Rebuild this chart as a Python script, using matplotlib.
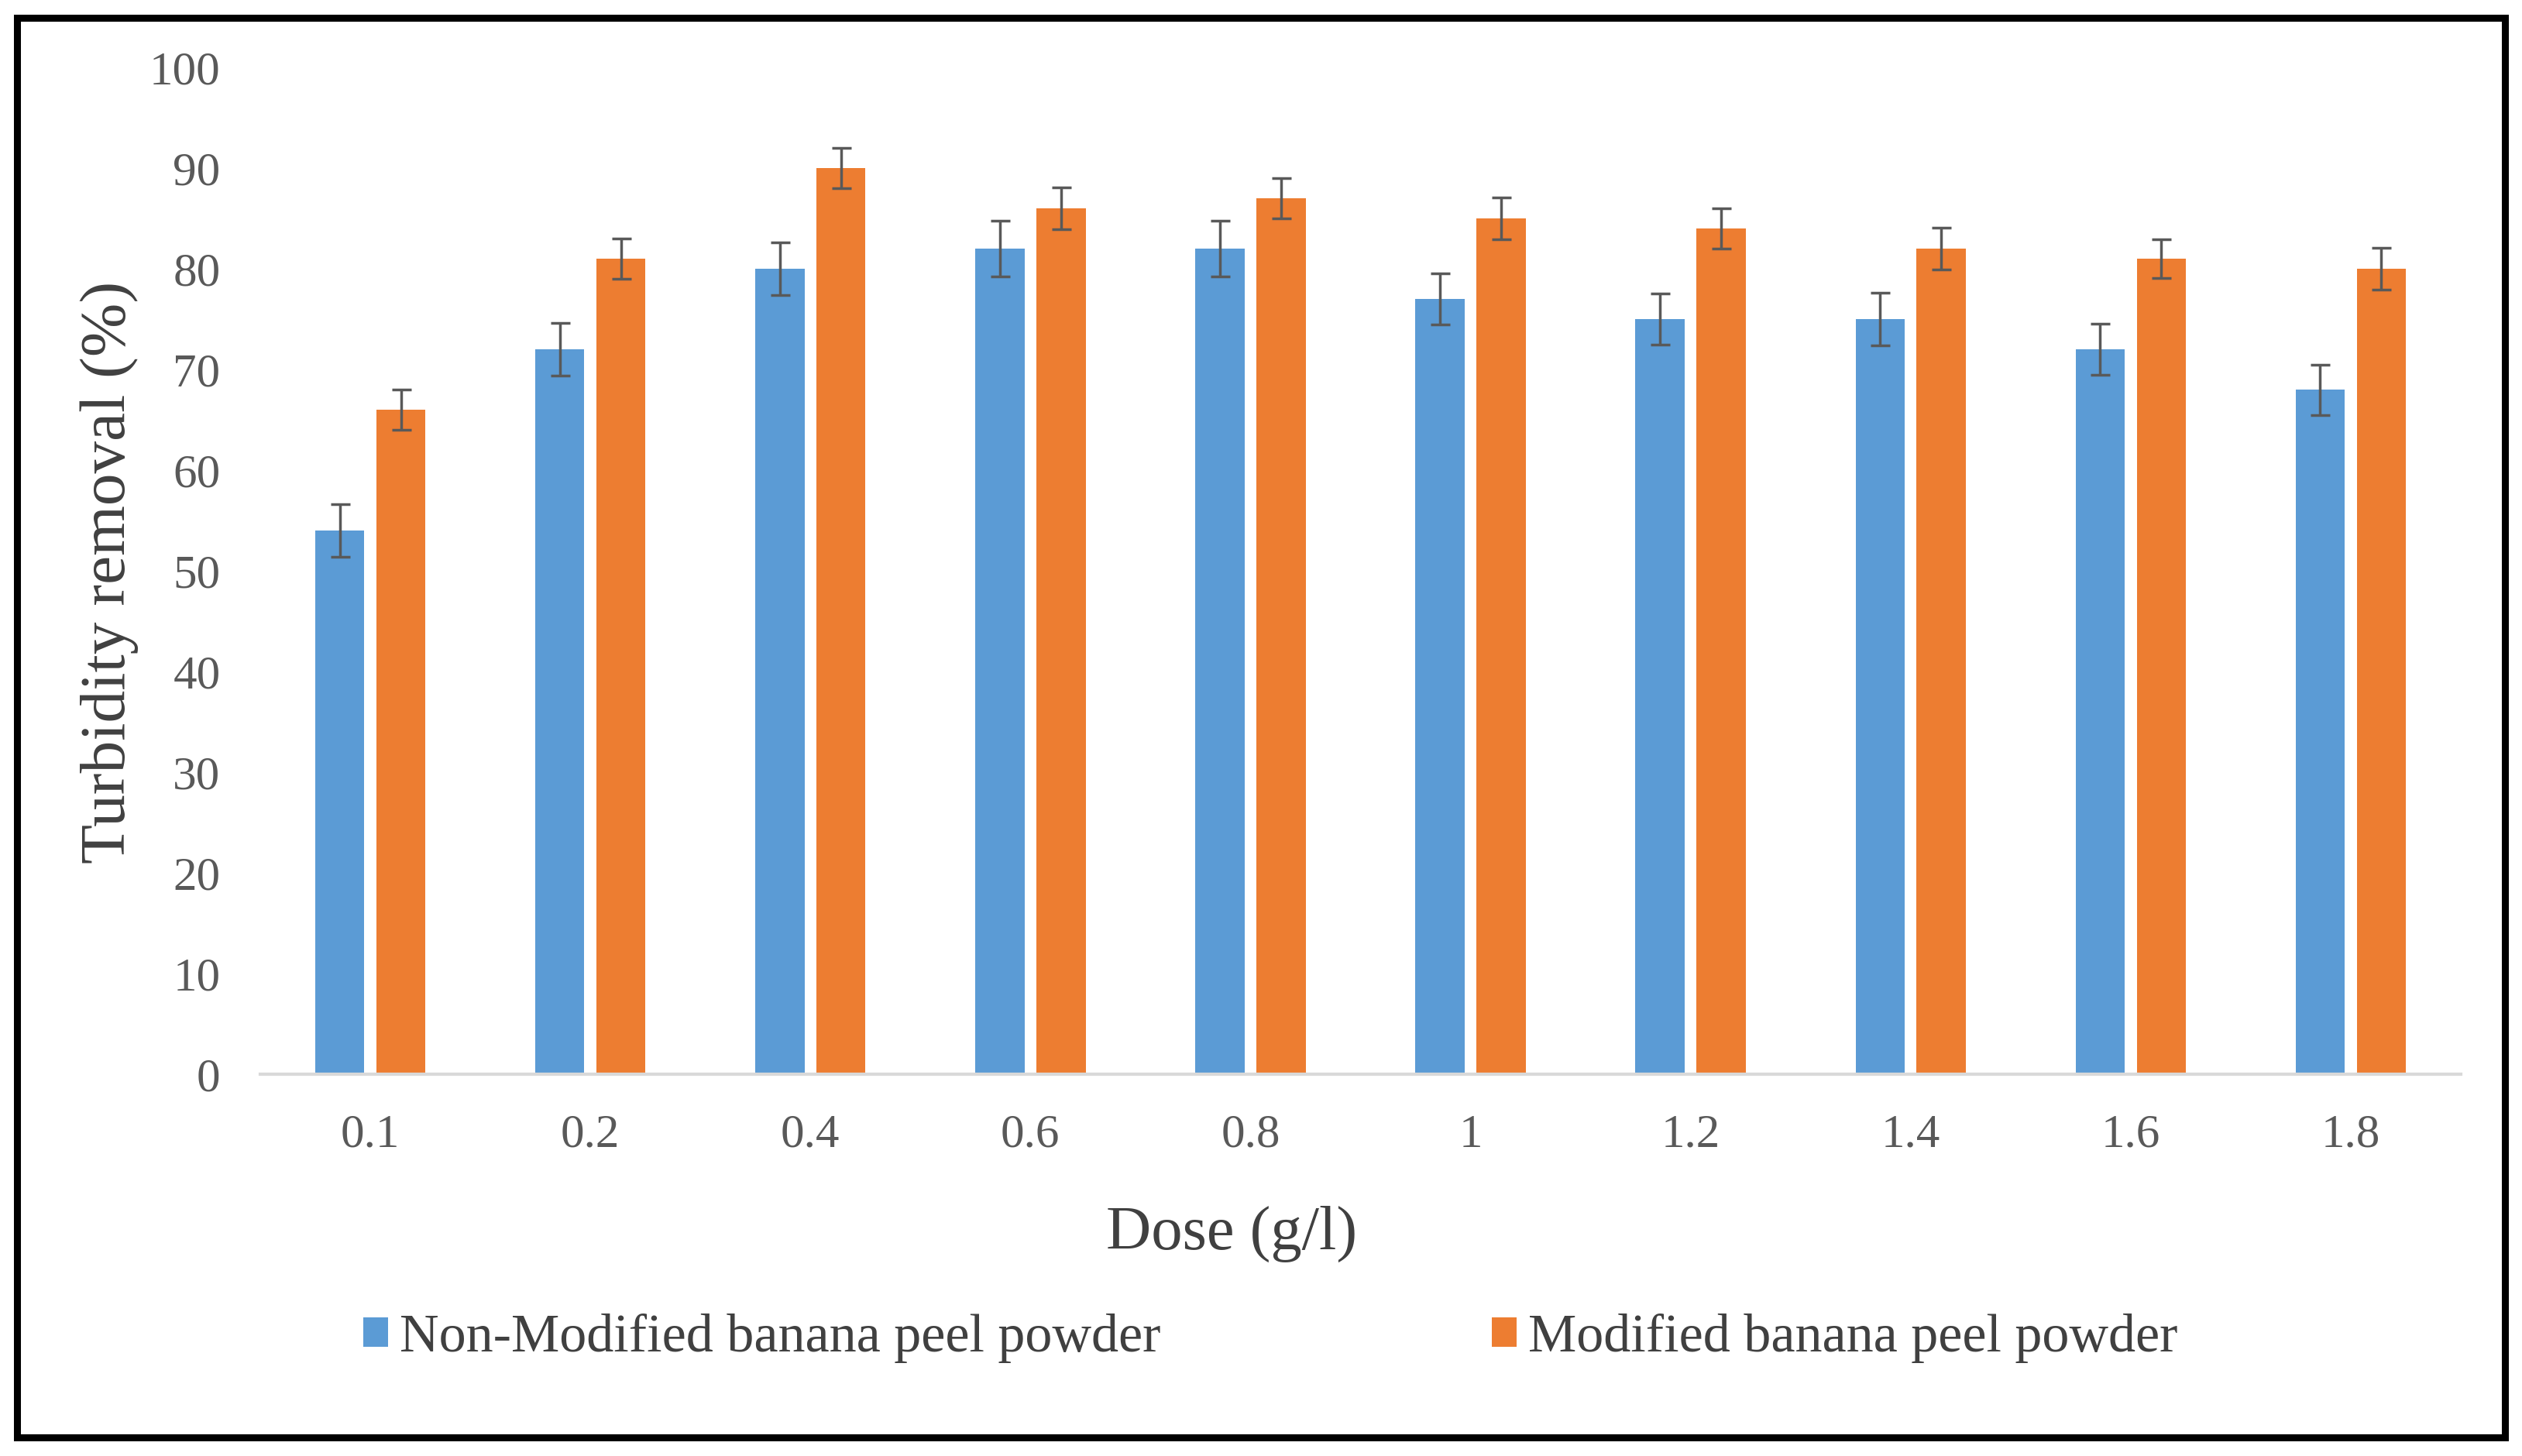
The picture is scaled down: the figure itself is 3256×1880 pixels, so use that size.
import matplotlib.pyplot as plt
import numpy as np
from matplotlib.patches import Rectangle

doses = ['0.1', '0.2', '0.4', '0.6', '0.8', '1', '1.2', '1.4', '1.6', '1.8']
non_modified = [54, 72, 80, 82, 82, 77, 75, 75, 72, 68]
modified = [66, 81, 90, 86, 87, 85, 84, 82, 81, 80]
non_modified_err = [2.6, 2.6, 2.6, 2.75, 2.75, 2.55, 2.55, 2.6, 2.55, 2.5]
modified_err = [2.0, 2.0, 2.0, 2.1, 2.0, 2.1, 2.0, 2.1, 1.95, 2.1]

plt.rcParams['font.family'] = ['Liberation Serif', 'DejaVu Serif']

W, H = 3256, 1880
fig = plt.figure(figsize=(W / 100, H / 100), dpi=100)
ax = fig.add_axes([336 / W, 1 - 1387 / H, (3177 - 336) / W, 1300 / H])

x = np.arange(len(doses))
bw = 0.2235
off = 0.139
err_kw = dict(ecolor='#595959', elinewidth=2.5, capsize=9, capthick=2.5)
ax.bar(x - off, non_modified, bw, color='#5B9BD5', yerr=non_modified_err,
       error_kw=err_kw, label='Non-Modified banana peel powder', zorder=2)
ax.bar(x + off, modified, bw, color='#ED7D31', yerr=modified_err,
       error_kw=err_kw, label='Modified banana peel powder', zorder=2)

ax.set_xlim(-0.5, len(doses) - 0.5)
ax.set_ylim(0, 100)
ax.set_yticks(range(0, 101, 10))
ax.set_xticks(x)
ax.set_xticklabels(doses)
ax.tick_params(axis='both', length=0, labelsize=44, labelcolor='#595959', pad=37)

for s in ['top', 'right', 'left']:
    ax.spines[s].set_visible(False)
ax.spines['bottom'].set_color('#d9d9d9')
ax.spines['bottom'].set_linewidth(3)

fig.text(141 / W, 1 - 739 / H, 'Turbidity removal (%)', rotation=90,
         ha='center', va='center', fontsize=60, color='#404040')
fig.text(1590 / W, 1 - 1593 / H, 'Dose (g/l)', ha='center', va='center',
         fontsize=58, color='#404040')

fig.legend(loc='center left', bbox_to_anchor=(469 / W, 1 - 1728 / H), ncol=2,
           frameon=False, fontsize=50.5, labelcolor='#404040',
           handlelength=0.45, handleheight=0.45, handletextpad=0.22,
           columnspacing=6.1, borderpad=0, borderaxespad=0)

fig.patches.append(Rectangle((22 / W, 1 - 1856 / H), (3234 - 22) / W, (1856 - 23) / H,
                             transform=fig.transFigure, fill=False,
                             edgecolor='black', linewidth=6.5))

fig.savefig('out.png', dpi=100)
